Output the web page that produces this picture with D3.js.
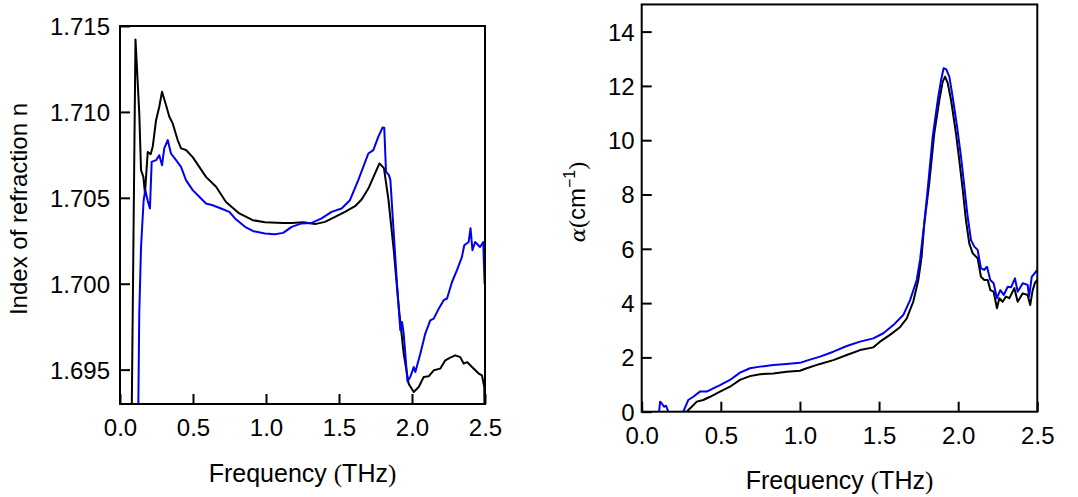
<!DOCTYPE html>
<html>
<head>
<meta charset="utf-8" />
<title>THz index and absorption</title>
<style>
body { margin: 0; background: #fff; }
svg { display: block; }
text { font-family: "Liberation Sans", Arial, sans-serif; fill: #000; }
</style>
</head>
<body>
<svg id="svg" width="1078" height="497"></svg>
<script src="https://d3js.org/d3.v7.min.js"></script>
<script>
// refractive index, black trace
var nFreqBlack = [0.075, 0.106, 0.132, 0.144, 0.160, 0.171, 0.190, 0.210, 0.224, 0.247, 0.269, 0.288, 0.315, 0.338, 0.361, 0.395, 0.418, 0.452, 0.498, 0.543, 0.589, 0.658, 0.726, 0.817, 0.909, 0.993, 1.118, 1.176, 1.255, 1.336, 1.404, 1.473, 1.541, 1.610, 1.655, 1.701, 1.747, 1.777, 1.808, 1.839, 1.875, 1.909, 1.943, 1.977, 2.012, 2.046, 2.080, 2.114, 2.149, 2.194, 2.228, 2.262, 2.296, 2.331, 2.354, 2.377, 2.411, 2.457, 2.479, 2.495, 2.5];
var nBlack = [1.6880, 1.71422, 1.70993, 1.70661, 1.70622, 1.70527, 1.70766, 1.70754, 1.70797, 1.70952, 1.71030, 1.71117, 1.71040, 1.70972, 1.70933, 1.70836, 1.70788, 1.70778, 1.70737, 1.70680, 1.70622, 1.70564, 1.70476, 1.70409, 1.70370, 1.70358, 1.70354, 1.70354, 1.70358, 1.70347, 1.70360, 1.70389, 1.70418, 1.70451, 1.70490, 1.70554, 1.70642, 1.70700, 1.70673, 1.70486, 1.70195, 1.69865, 1.69593, 1.69418, 1.69370, 1.69399, 1.69457, 1.69461, 1.69496, 1.69506, 1.69554, 1.69570, 1.69583, 1.69573, 1.69535, 1.69544, 1.69515, 1.69477, 1.69467, 1.69399, 1.6900];

// refractive index, blue trace
var nFreqBlue = [0.122, 0.132, 0.144, 0.162, 0.173, 0.189, 0.205, 0.217, 0.247, 0.269, 0.288, 0.303, 0.327, 0.349, 0.384, 0.418, 0.452, 0.498, 0.543, 0.589, 0.635, 0.692, 0.749, 0.788, 0.856, 0.913, 0.993, 1.062, 1.118, 1.176, 1.244, 1.313, 1.381, 1.449, 1.518, 1.575, 1.632, 1.701, 1.735, 1.769, 1.798, 1.810, 1.822, 1.842, 1.852, 1.875, 1.897, 1.920, 1.932, 1.943, 1.969, 1.988, 2.012, 2.023, 2.057, 2.091, 2.125, 2.149, 2.183, 2.217, 2.240, 2.274, 2.308, 2.342, 2.358, 2.388, 2.401, 2.414, 2.432, 2.466, 2.488, 2.497, 2.5];
var nBlue = [1.6900, 1.69828, 1.70212, 1.70486, 1.70545, 1.70486, 1.70438, 1.70709, 1.70719, 1.70748, 1.70690, 1.70788, 1.70836, 1.70758, 1.70719, 1.70680, 1.70603, 1.70545, 1.70506, 1.70467, 1.70457, 1.70438, 1.70418, 1.70380, 1.70331, 1.70306, 1.70292, 1.70288, 1.70296, 1.70331, 1.70351, 1.70354, 1.70380, 1.70418, 1.70438, 1.70486, 1.70603, 1.70758, 1.70778, 1.70855, 1.70909, 1.70908, 1.70651, 1.70632, 1.70603, 1.70292, 1.70001, 1.69729, 1.69777, 1.69710, 1.69432, 1.69457, 1.69515, 1.69486, 1.69593, 1.69710, 1.69787, 1.69797, 1.69855, 1.69904, 1.69914, 1.70010, 1.70079, 1.70156, 1.70224, 1.70243, 1.70323, 1.70195, 1.70243, 1.70214, 1.70243, 1.70001, 1.70000];

// absorption, black trace
var aFreqBlack = [0.25, 0.284, 0.316, 0.348, 0.389, 0.432, 0.495, 0.558, 0.621, 0.684, 0.748, 0.832, 0.916, 1.000, 1.043, 1.127, 1.211, 1.296, 1.380, 1.464, 1.506, 1.569, 1.632, 1.675, 1.716, 1.748, 1.769, 1.786, 1.817, 1.849, 1.881, 1.902, 1.917, 1.934, 1.955, 1.986, 2.007, 2.029, 2.049, 2.070, 2.092, 2.123, 2.144, 2.165, 2.187, 2.203, 2.224, 2.245, 2.260, 2.281, 2.302, 2.323, 2.355, 2.376, 2.408, 2.439, 2.455, 2.470, 2.485, 2.5];
var aBlack = [-0.4, 0.00, 0.18, 0.37, 0.43, 0.55, 0.74, 0.92, 1.17, 1.31, 1.38, 1.41, 1.47, 1.51, 1.60, 1.76, 1.90, 2.09, 2.27, 2.37, 2.58, 2.83, 3.11, 3.44, 4.05, 4.85, 5.71, 6.94, 8.41, 10.25, 11.48, 12.15, 12.34, 12.10, 11.48, 10.25, 9.27, 8.16, 7.06, 6.20, 5.83, 5.65, 4.97, 4.85, 4.85, 4.48, 4.42, 3.81, 4.18, 4.05, 4.24, 4.18, 4.55, 4.05, 4.36, 4.30, 3.93, 4.45, 4.75, 4.85];

// absorption, blue trace
var aFreqBlue = [0.09, 0.110, 0.116, 0.126, 0.141, 0.154, 0.168, 0.19, 0.24, 0.263, 0.294, 0.326, 0.368, 0.411, 0.452, 0.495, 0.558, 0.621, 0.684, 0.748, 0.832, 0.916, 1.000, 1.043, 1.127, 1.211, 1.296, 1.380, 1.464, 1.527, 1.590, 1.653, 1.696, 1.738, 1.759, 1.785, 1.807, 1.839, 1.871, 1.892, 1.908, 1.925, 1.944, 1.965, 1.993, 2.018, 2.039, 2.060, 2.081, 2.102, 2.123, 2.144, 2.165, 2.182, 2.203, 2.224, 2.245, 2.266, 2.288, 2.313, 2.334, 2.359, 2.376, 2.408, 2.439, 2.448, 2.465, 2.5];
var aBlue = [-0.5, 0.00, 0.37, 0.31, 0.18, 0.22, 0.00, -0.4, -0.3, 0.00, 0.43, 0.55, 0.74, 0.74, 0.86, 0.98, 1.17, 1.44, 1.60, 1.66, 1.72, 1.76, 1.80, 1.88, 2.03, 2.21, 2.42, 2.58, 2.70, 2.89, 3.19, 3.56, 4.11, 4.85, 5.59, 6.90, 8.17, 10.13, 11.48, 12.22, 12.65, 12.61, 12.34, 11.60, 10.50, 9.39, 8.29, 7.18, 6.32, 6.08, 5.96, 5.28, 5.22, 5.34, 4.85, 4.73, 4.18, 4.48, 4.30, 4.60, 4.58, 4.91, 4.42, 4.73, 4.67, 4.24, 4.97, 5.22];

var freqTicks = [0, 0.5, 1.0, 1.5, 2.0, 2.5];
var nTicks = [1.695, 1.700, 1.705, 1.710, 1.715];
var aTicks = [0, 2, 4, 6, 8, 10, 12, 14];

var svg = d3.select("#svg");
var FS = 24;

function zip(xs, ys) {
  return xs.map(function(x, i) { return [x, ys[i]]; });
}

function panel(opt) {
  var x = d3.scaleLinear().domain([0, 2.5]).range([opt.left, opt.right]);
  var y = d3.scaleLinear().domain(opt.ydom).range([opt.bottom, opt.top]);
  var g = svg.append("g");

  g.append("clipPath").attr("id", opt.id)
    .append("rect")
    .attr("x", opt.left).attr("y", opt.top)
    .attr("width", opt.right - opt.left).attr("height", opt.bottom - opt.top);

  var line = d3.line().x(d => x(d[0])).y(d => y(d[1]));
  opt.series.forEach(function(s) {
    g.append("path")
      .datum(s.data)
      .attr("clip-path", "url(#" + opt.id + ")")
      .attr("fill", "none")
      .attr("stroke", s.color)
      .attr("stroke-width", 2)
      .attr("stroke-linejoin", "round")
      .attr("d", line);
  });

  var xa = g.append("g")
    .attr("transform", "translate(0," + opt.bottom + ")")
    .call(d3.axisBottom(x).tickValues(freqTicks).tickFormat(d3.format(".1f"))
      .tickSizeInner(-10).tickSizeOuter(0).tickPadding(0));
  var ya = g.append("g")
    .attr("transform", "translate(" + opt.left + ",0)")
    .call(d3.axisLeft(y).tickValues(opt.yticks).tickFormat(opt.yfmt)
      .tickSizeInner(-10).tickSizeOuter(0).tickPadding(opt.ypad));

  [xa, ya].forEach(function(a) {
    a.select(".domain").remove();
    a.selectAll("line").attr("stroke", "#000").attr("stroke-width", 2);
    a.selectAll("text").attr("font-family", "Liberation Sans, Arial, sans-serif")
      .attr("font-size", FS).attr("fill", "#000");
  });
  xa.selectAll("text").attr("dy", null).attr("y", 32);
  ya.selectAll("text").attr("dy", "0.35em");

  g.append("rect")
    .attr("x", opt.left).attr("y", opt.top)
    .attr("width", opt.right - opt.left).attr("height", opt.bottom - opt.top)
    .attr("fill", "none").attr("stroke", "#000").attr("stroke-width", 2);

  // x title
  var xt = g.append("text")
    .attr("x", (opt.left + opt.right) / 2).attr("y", opt.xtitleY)
    .attr("text-anchor", "middle").attr("font-size", 25);
  xt.append("tspan").text("Frequency ");
  xt.append("tspan").attr("font-family", "Liberation Serif, serif").text("(");
  xt.append("tspan").text("THz");
  xt.append("tspan").attr("font-family", "Liberation Serif, serif").text(")");

  return g;
}

var left = panel({
  id: "clipL", left: 120, right: 485, top: 26, bottom: 404,
  ydom: [1.693, 1.715], yticks: nTicks, yfmt: d3.format(".3f"), ypad: 10,
  xtitleY: 482,
  series: [
    { color: "#000000", data: zip(nFreqBlack, nBlack) },
    { color: "#0000f0", data: zip(nFreqBlue, nBlue) }
  ]
});
left.append("text")
  .attr("transform", "translate(27,209) rotate(-90)")
  .attr("text-anchor", "middle").attr("font-size", FS)
  .text("Index of refraction n");

var right = panel({
  id: "clipR", left: 641.7, right: 1037.3, top: 4.45, bottom: 411.7,
  ydom: [0, 15], yticks: aTicks, yfmt: d3.format("d"), ypad: 7,
  xtitleY: 489,
  series: [
    { color: "#000000", data: zip(aFreqBlack, aBlack) },
    { color: "#0000f0", data: zip(aFreqBlue, aBlue) }
  ]
});
var yt = right.append("text")
  .attr("transform", "translate(585,202) rotate(-90)")
  .attr("text-anchor", "middle").attr("font-size", FS);
yt.append("tspan").attr("font-family", "DejaVu Serif, serif").attr("font-style", "italic").attr("font-size", 21).text("α");
yt.append("tspan").attr("font-family", "Liberation Serif, serif").text("(");
yt.append("tspan").text("cm");
yt.append("tspan").attr("font-size", 16).attr("dy", -10).text("−1");
yt.append("tspan").attr("font-family", "Liberation Serif, serif").attr("dy", 10).text(")");
</script>
</body>
</html>
